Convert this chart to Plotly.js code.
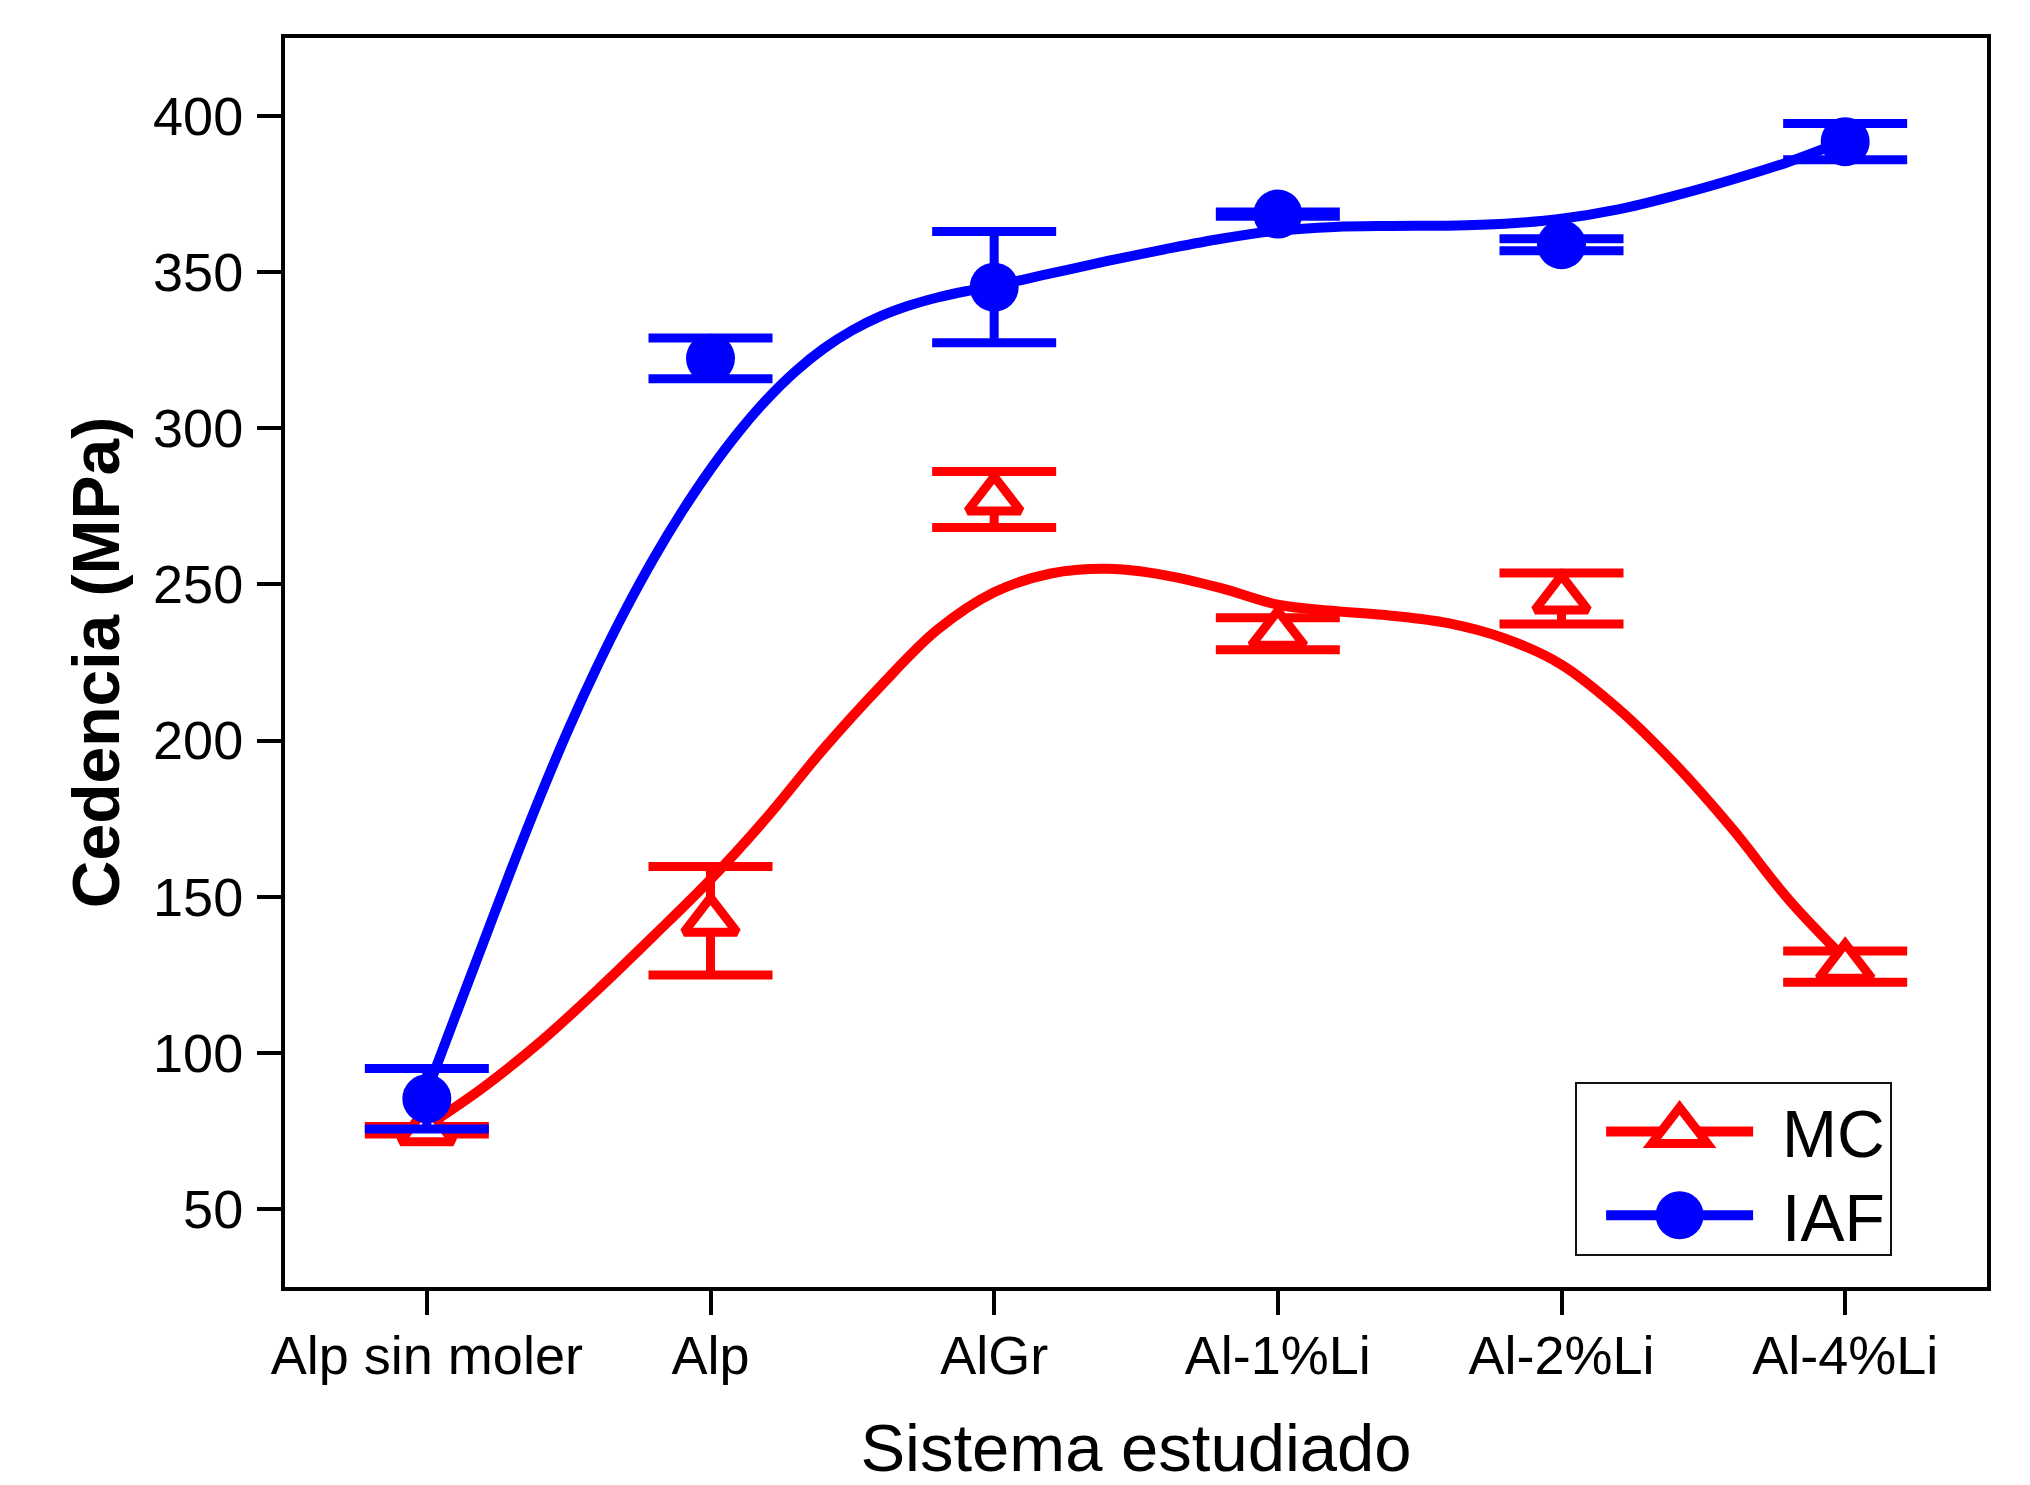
<!DOCTYPE html>
<html>
<head>
<meta charset="utf-8">
<script src="https://cdn.plot.ly/plotly-3.0.1.min.js"></script>
<style>
html,body{margin:0;padding:0;background:#ffffff;}
#chart{width:2030px;height:1485px;}
</style>
</head>
<body>
<div id="chart"></div>
<script>
// ---- data ----
const categories = ['Alp sin moler', 'Alp', 'AlGr', 'Al-1%Li', 'Al-2%Li', 'Al-4%Li'];

const mcValues  = [75.2, 142.3, 277.2, 234.2, 245.5, 127.6];
const mcErrors  = [1.2, 17.4, 9.0, 5.1, 8.2, 5.0];

const iafValues = [85.3, 322.4, 345.2, 368.6, 358.8, 391.8];
const iafErrors = [9.7, 6.5, 17.8, 0.7, 1.9, 5.8];

// smoothed fit curves (x in category positions)
const mcFitX  = [0, 0.2, 0.4, 0.6, 0.8, 1.0, 1.2, 1.4, 1.6, 1.8, 2.0, 2.2, 2.4, 2.6, 2.8, 3.0, 3.2, 3.4, 3.6, 3.8, 4.0, 4.2, 4.4, 4.6, 4.8, 5.0];
const mcFitY  = [76.5, 89.0, 103.5, 120.0, 137.5, 155.5, 175.5, 197.5, 217.5, 235.5, 247.5, 253.5, 255.0, 253.0, 248.8, 243.5, 241.5, 240.0, 237.6, 232.7, 224.3, 210.2, 192.5, 172.0, 149.2, 130.0];

const iafFitX = [0, 0.1, 0.2, 0.3, 0.4, 0.5, 0.6, 0.7, 0.8, 0.9, 1.0, 1.1, 1.2, 1.3, 1.4, 1.5, 1.6, 1.7, 1.8, 1.9, 2.0, 2.2, 2.4, 2.6, 2.8, 3.0, 3.2, 3.4, 3.6, 3.8, 4.0, 4.2, 4.4, 4.6, 4.8, 5.0];
const iafFitY = [87.5, 111.6, 135.5, 159.3, 182.2, 203.8, 223.6, 241.8, 258.4, 273.4, 286.9, 298.9, 309.4, 318.3, 325.6, 331.4, 335.9, 339.3, 341.9, 343.9, 345.6, 349.6, 353.6, 357.3, 360.7, 363.3, 364.5, 364.8, 364.9, 365.5, 367.1, 370.1, 374.5, 379.6, 385.3, 392.2];

const yTickValues = [50, 100, 150, 200, 250, 300, 350, 400];
const seriesNames = ['MC', 'IAF'];

// ---- styling ----
const RED = '#ff0000';
const BLUE = '#0000ff';
const FONT = 'Liberation Sans, Arial, Helvetica, sans-serif';
const xIndex = categories.map((c, i) => i);

const traces = [
  { x: mcFitX, y: mcFitY, type: 'scatter', mode: 'lines', showlegend: false, hoverinfo: 'skip',
    line: { color: RED, width: 10, shape: 'spline', smoothing: 1 } },
  { x: iafFitX, y: iafFitY, type: 'scatter', mode: 'lines', showlegend: false, hoverinfo: 'skip',
    line: { color: BLUE, width: 10, shape: 'spline', smoothing: 1 } },
  { x: xIndex, y: mcValues, type: 'scatter', mode: 'markers', name: seriesNames[0], showlegend: false,
    marker: { symbol: 'triangle-up', size: 46, color: '#ffffff', line: { color: RED, width: 9 } },
    error_y: { type: 'data', array: mcErrors, visible: true, color: RED, thickness: 9, width: 62 } },
  { x: xIndex, y: iafValues, type: 'scatter', mode: 'markers', name: seriesNames[1], showlegend: false,
    marker: { symbol: 'circle', size: 49, color: BLUE, line: { width: 0 } },
    error_y: { type: 'data', array: iafErrors, visible: true, color: BLUE, thickness: 9, width: 62 } },
  // legend entries (line + symbol)
  { x: [null], y: [null], type: 'scatter', mode: 'lines+markers', name: seriesNames[0], showlegend: true,
    line: { color: RED, width: 10 },
    marker: { symbol: 'triangle-up', size: 16, color: '#ffffff', line: { color: RED, width: 5 } } },
  { x: [null], y: [null], type: 'scatter', mode: 'lines+markers', name: seriesNames[1], showlegend: true,
    line: { color: BLUE, width: 10 },
    marker: { symbol: 'circle', size: 16, color: BLUE, line: { width: 0 } } }
];

const layout = {
  width: 2030, height: 1485,
  margin: { l: 285, r: 43, t: 38, b: 198, pad: 0 },
  paper_bgcolor: '#ffffff', plot_bgcolor: '#ffffff',
  font: { family: FONT, color: '#000000', size: 54 },
  showlegend: true,
  xaxis: {
    range: [-0.5, 5.5], tickvals: xIndex, ticktext: categories,
    ticks: 'outside', ticklen: 24, tickwidth: 4, tickcolor: '#000000',
    showline: true, linewidth: 4, linecolor: '#000000', mirror: true,
    showgrid: false, zeroline: false,
    tickfont: { family: FONT, size: 54, color: '#000000' },
    ticklabelstandoff: -6,
    automargin: false,
    title: { text: 'Sistema estudiado', font: { family: FONT, size: 67, color: '#000000' }, standoff: 51 }
  },
  yaxis: {
    range: [25, 425], tickvals: yTickValues,
    ticks: 'outside', ticklen: 24, tickwidth: 4, tickcolor: '#000000',
    showline: true, linewidth: 4, linecolor: '#000000', mirror: true,
    showgrid: false, zeroline: false,
    tickfont: { family: FONT, size: 54, color: '#000000' },
    ticklabelstandoff: 3,
    automargin: false,
    title: { text: '<b>Cedencia (MPa)</b>', font: { family: FONT, size: 66, color: '#000000' }, standoff: 13 }
  },
  legend: {
    x: 0.758, y: 0.0248, xanchor: 'left', yanchor: 'bottom',
    bgcolor: '#ffffff', bordercolor: '#111111', borderwidth: 2,
    font: { family: FONT, size: 66, color: '#000000' },
    itemwidth: 195, tracegroupgap: 0, traceorder: 'normal'
  }
};

function parseTranslate(t) {
  const m = (t || '').match(/translate\(\s*([-\d.eE]+)[\s,]+([-\d.eE]+)\s*\)/);
  return m ? [parseFloat(m[1]), parseFloat(m[2])] : null;
}

Plotly.newPlot('chart', traces, layout, { staticPlot: true, displayModeBar: false }).then(function (gd) {
  // enlarge the legend symbols to match the plotted symbol size
  gd.querySelectorAll('.legend .legendpoints path.scatterpts').forEach(function (p) {
    const t = p.getAttribute('transform') || '';
    p.setAttribute('transform', t + ' scale(3)');
    const sw = parseFloat(p.style.strokeWidth || '0');
    if (sw > 0) p.style.strokeWidth = '3px';
  });
  // inset the legend line samples a little, as in the reference
  gd.querySelectorAll('.legend .legendlines path.js-line').forEach(function (p) {
    const d = p.getAttribute('d') || '';
    const m = d.match(/^M([\d.\-]+),([\d.\-]+)h([\d.\-]+)$/);
    if (m) {
      const a = parseFloat(m[1]), b = parseFloat(m[2]), w = parseFloat(m[3]);
      p.setAttribute('d', 'M' + (a + 24) + ',' + b + 'h' + (w - 48));
    }
  });
  // tighten the legend rows (reference rows are closer together)
  const leg = gd.querySelector('.legend');
  if (leg) {
    const items = leg.querySelectorAll('g.traces');
    const shifts = [16, 11];
    items.forEach(function (g, i) {
      const tr = parseTranslate(g.getAttribute('transform'));
      if (tr && i < shifts.length) g.setAttribute('transform', 'translate(' + tr[0] + ',' + (tr[1] + shifts[i]) + ')');
    });
    const bg = leg.querySelector('rect.bg');
    if (bg) {
      const y = parseFloat(bg.getAttribute('y') || '0');
      const h = parseFloat(bg.getAttribute('height') || '0');
      if (h > 40) { bg.setAttribute('y', y + 18); bg.setAttribute('height', h - 18); }
    }
  }
});
</script>
</body>
</html>
